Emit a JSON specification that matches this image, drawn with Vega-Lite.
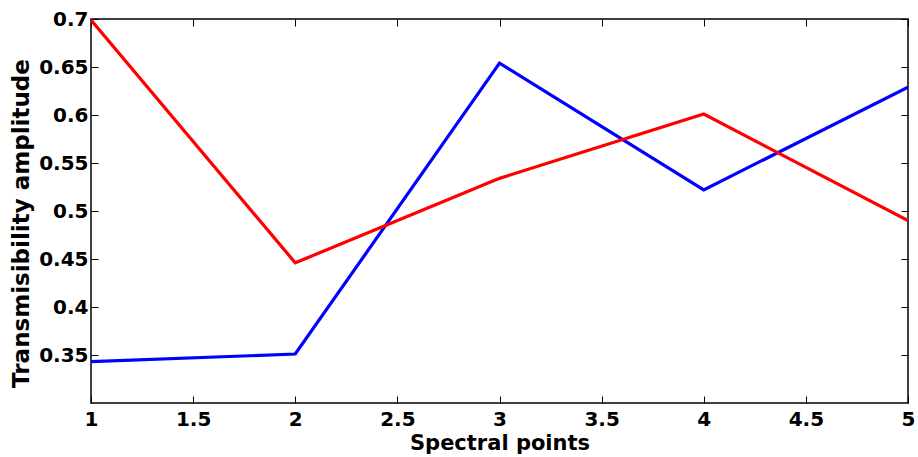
{
  "$schema": "https://vega.github.io/schema/vega-lite/v6.json",
  "width": 817,
  "height": 384,
  "autosize": {"type": "none"},
  "padding": {"left": 91, "top": 19, "right": 10, "bottom": 54},
  "background": "white",
  "data": {"values": [
    {"x": 1, "y": 0.343, "s": "blue"},
    {"x": 2, "y": 0.351, "s": "blue"},
    {"x": 3, "y": 0.654, "s": "blue"},
    {"x": 4, "y": 0.522, "s": "blue"},
    {"x": 5, "y": 0.629, "s": "blue"},
    {"x": 1, "y": 0.699, "s": "red"},
    {"x": 2, "y": 0.446, "s": "red"},
    {"x": 3, "y": 0.534, "s": "red"},
    {"x": 4, "y": 0.601, "s": "red"},
    {"x": 5, "y": 0.490, "s": "red"}
  ]},
  "config": {
    "view": {"stroke": "black", "strokeWidth": 1.5},
    "axis": {
      "labelFont": "DejaVu Sans", "labelFontWeight": "bold", "labelFontSize": 20, "labelColor": "black",
      "titleFont": "DejaVu Sans", "titleFontWeight": "bold", "titleFontSize": 21, "titleColor": "black",
      "grid": false, "domain": false, "tickColor": "black", "tickSize": -7, "tickWidth": 1,
      "format": "~g", "labelFlush": false, "labelOverlap": false
    }
  },
  "layer": [
    {
      "mark": {"type": "line", "strokeWidth": 3.2, "clip": true},
      "encoding": {
        "x": {"field": "x", "type": "quantitative", "scale": {"domain": [1, 5], "nice": false},
              "axis": {"orient": "bottom", "values": [1, 1.5, 2, 2.5, 3, 3.5, 4, 4.5, 5], "title": "Spectral points", "labelPadding": 13, "titlePadding": 3}},
        "y": {"field": "y", "type": "quantitative", "scale": {"domain": [0.3, 0.7], "nice": false, "zero": false},
              "axis": {"orient": "left", "values": [0.35, 0.4, 0.45, 0.5, 0.55, 0.6, 0.65, 0.7], "title": "Transmisibility amplitude", "titleFontSize": 23, "labelPadding": 10, "titlePadding": 5, "titleY": 204}},
        "color": {"field": "s", "type": "nominal", "scale": {"domain": ["blue", "red"], "range": ["#0000ff", "#ff0000"]}, "legend": null},
        "detail": {"field": "s"}
      }
    },
    {
      "mark": {"type": "line", "opacity": 0},
      "encoding": {
        "x": {"field": "x", "type": "quantitative", "scale": {"domain": [1, 5], "nice": false},
              "axis": {"orient": "top", "values": [1, 1.5, 2, 2.5, 3, 3.5, 4, 4.5, 5], "labels": false, "title": null}},
        "y": {"field": "y", "type": "quantitative", "scale": {"domain": [0.3, 0.7], "nice": false, "zero": false},
              "axis": {"orient": "right", "values": [0.35, 0.4, 0.45, 0.5, 0.55, 0.6, 0.65, 0.7], "labels": false, "title": null}},
        "detail": {"field": "s"}
      }
    }
  ],
  "resolve": {"axis": {"x": "independent", "y": "independent"}}
}
